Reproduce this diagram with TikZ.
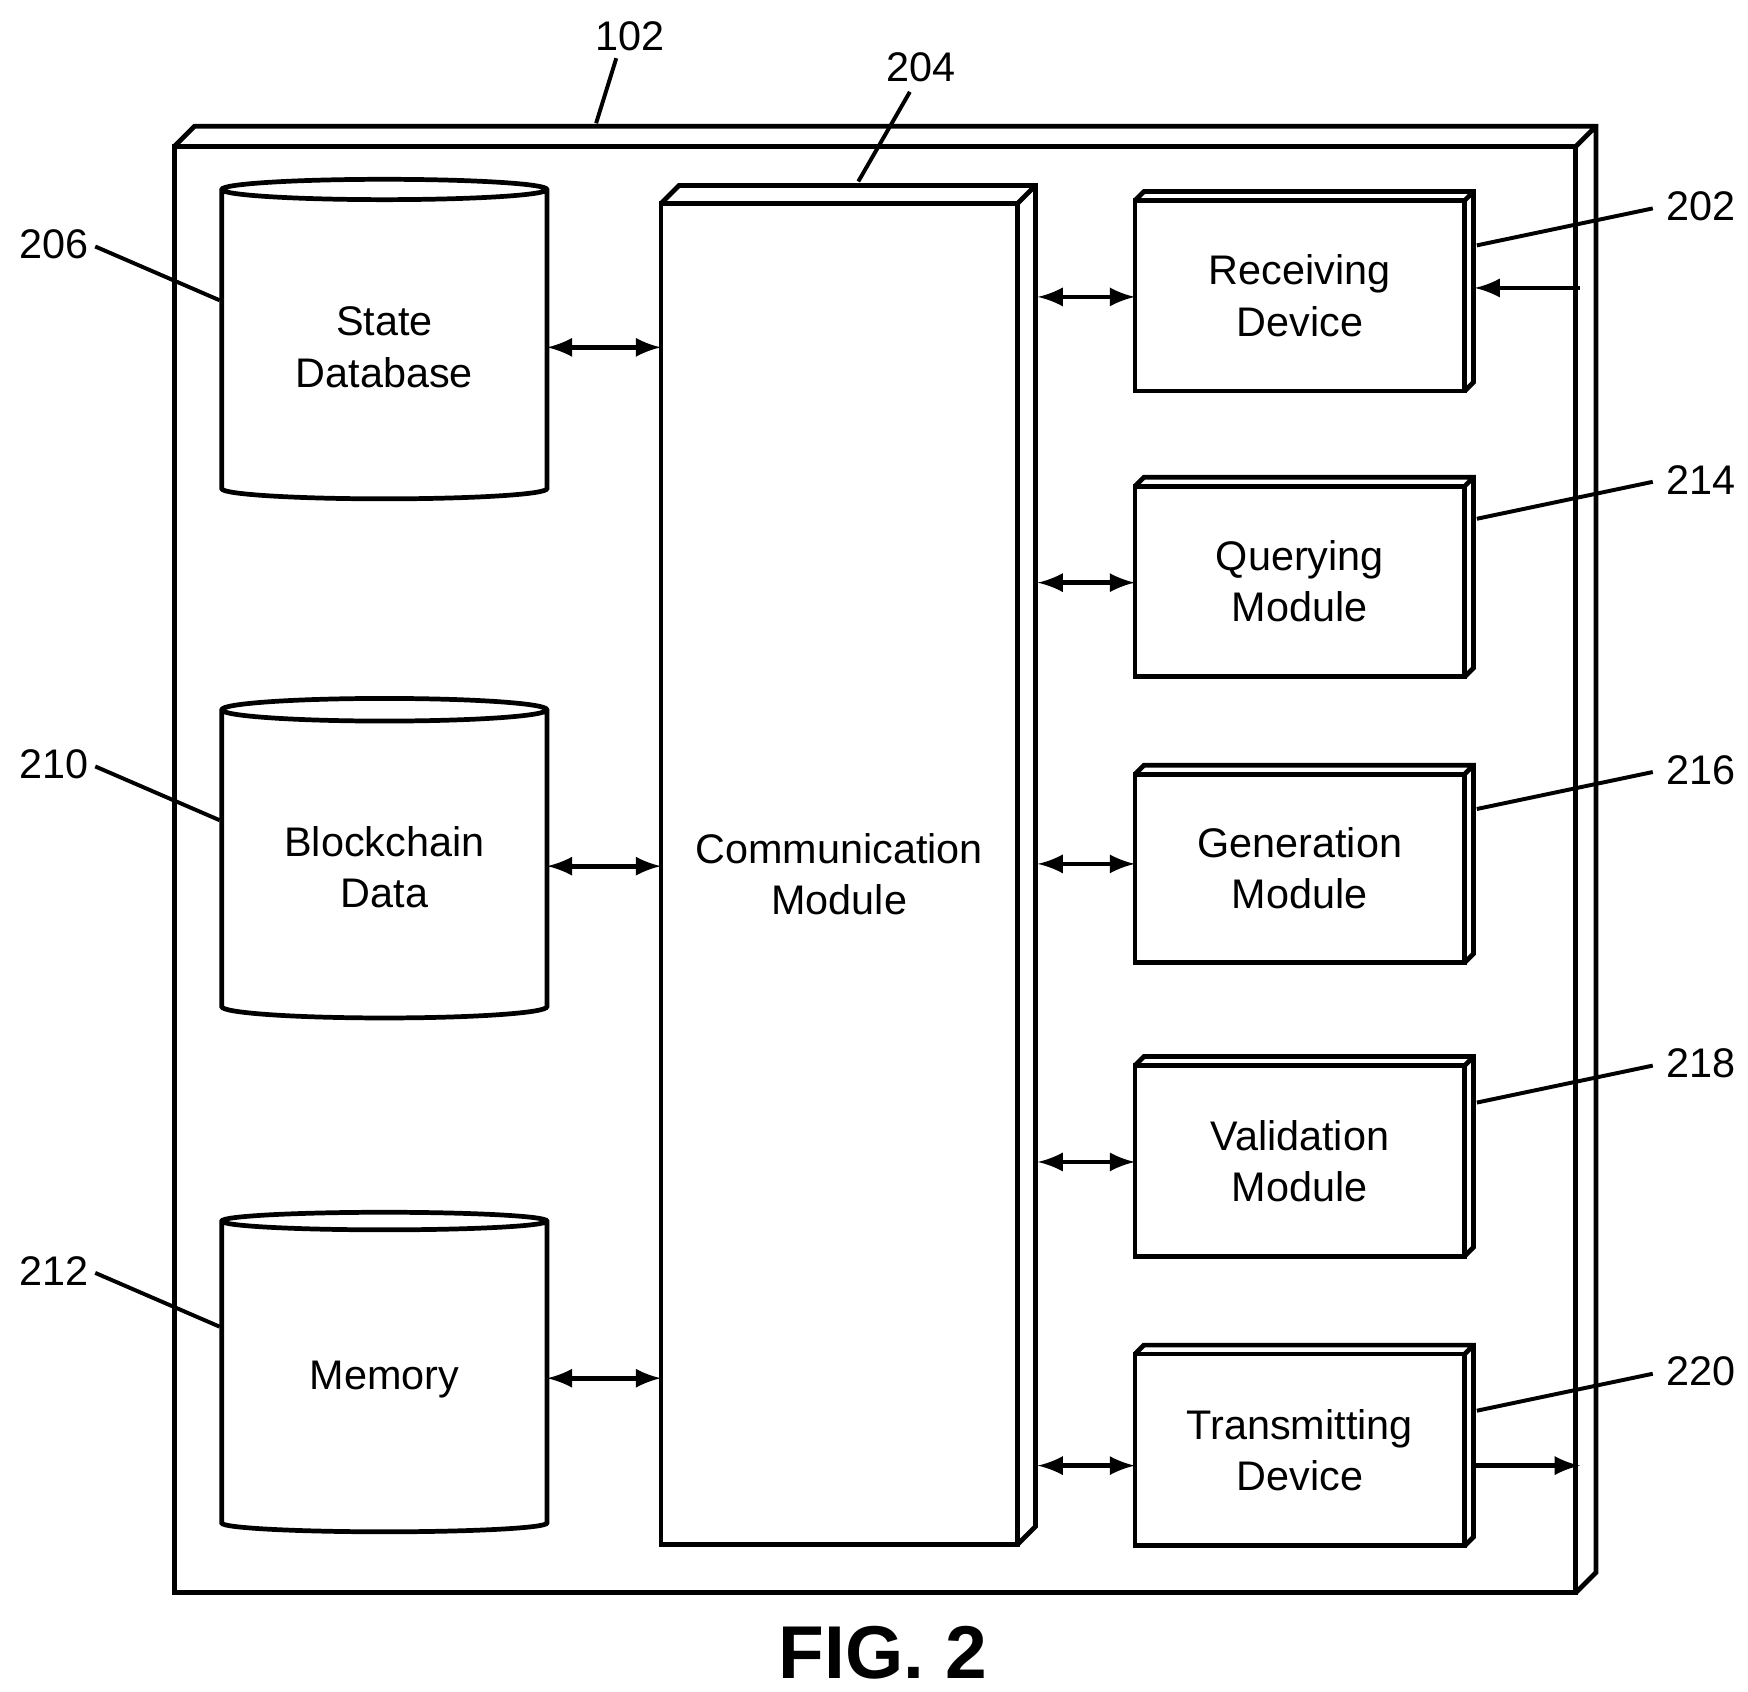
\documentclass[tikz,border=0pt]{standalone}
\usepackage{fontspec}
\setmainfont{Liberation Sans}
\usetikzlibrary{shapes.geometric}

\tikzset{
  unit/.style={draw, line width=1.2pt, rectangle, outer sep=0pt, align=center, font=\fontsize{10.5}{13}\selectfont},
  store/.style={draw, line width=1.2pt, cylinder, shape border rotate=90, aspect=0.1, outer sep=0pt,
    minimum width=2.9cm, minimum height=2.85cm, align=center, font=\fontsize{10.5}{13}\selectfont},
  link/.style={<->, >=latex, line width=1.2pt},
  ref/.style={font=\fontsize{10.5}{13}\selectfont},
  lead/.style={line width=1pt}
}

\begin{document}
\begin{tikzpicture}[x=0.01cm, y=-0.01cm]
        \useasboundingbox (0,0) rectangle (1560,1510);

        % Outer housing
        \node[unit, minimum width=12.5cm, minimum height=12.9cm] (Dev) at (781,776) {};
        \draw[line width=1.2pt] (Dev.north west) -- ++(18,-18) -| ([shift={(18,-18)}]Dev.south east) -- (Dev.south east)
              (Dev.north east) -- ++(18,-18);

        % Communication module
        \node[unit, minimum width=3.18cm, minimum height=11.96cm] (Comm) at (749,780) {Communication\\Module};
        \draw[line width=1.2pt] (Comm.north west) -- ++(16,-16) -| ([shift={(16,-16)}]Comm.south east) -- (Comm.south east)
              (Comm.north east) -- ++(16,-16);

        % Storage
        \node[store] (State) at (343,310) {State\\Database};
        \node[store] (Chain) at (343,774) {Blockchain\\Data};
        \node[store] (Mem) at (343,1231) {Memory};

        % Right hand modules
        \node[unit, minimum width=2.94cm, minimum height=1.7cm] (Recv) at (1160,264) {Receiving\\Device};
        \node[unit, minimum width=2.94cm, minimum height=1.7cm] (Query) at (1160,519) {Querying\\Module};
        \node[unit, minimum width=2.94cm, minimum height=1.68cm] (Gen) at (1160,775) {Generation\\Module};
        \node[unit, minimum width=2.94cm, minimum height=1.7cm] (Valid) at (1160,1036) {Validation\\Module};
        \node[unit, minimum width=2.94cm, minimum height=1.71cm] (Trans) at (1160,1294) {Transmitting\\Device};
        \foreach \m in {Recv,Query,Gen,Valid,Trans} {
            \draw[line width=1.2pt] (\m.north west) -- ++(8,-8) -| ([shift={(8,-8)}]\m.south east) -- (\m.south east)
                  (\m.north east) -- ++(8,-8);
        }

        % Arrows
        \draw[link] (State.east |- 0,310) -- (Comm.west |- 0,310);
        \draw[link] (Chain.east |- 0,773) -- (Comm.west |- 0,773);
        \draw[link] (Mem.east |- 0,1230) -- (Comm.west |- 0,1230);
        \foreach \m/\yy in {Recv/265,Query/520,Gen/771,Valid/1037,Trans/1308}
            \draw[link] (926,\yy) -- (\m.west |- 0,\yy);
        \coordinate (inR) at (1410,257);
        \coordinate (outT) at (1410,1308);
        \draw[->, >=latex, line width=1.2pt] (inR) -- (1316,257);
        \draw[->, >=latex, line width=1.2pt] (1316,1308) -- (outT);

        % Reference numerals
        \node[ref] (n102) at (562,32) {102};
        \draw[lead] (550,52) -- (532,110);
        \node[ref] (n204) at (822,60) {204};
        \draw[lead] (812,82) -- (766,162);
        \foreach \t/\yy in {206/218,210/682,212/1134} {
            \node[ref] (n\t) at (48,\yy) {\t};
            \draw[lead] (85,\yy+2) -- (196,\yy+50);
        }
        \foreach \t/\yy in {202/184,214/428,216/687,218/949,220/1224} {
            \node[ref] (n\t) at (1518,\yy) {\t};
            \draw[lead] (1475,\yy+2) -- (1318,\yy+35);
        }

        \node[font=\fontsize{19}{22}\selectfont\bfseries] (Fig) at (788,1475) {FIG. 2};
    \end{tikzpicture}
\end{document}
